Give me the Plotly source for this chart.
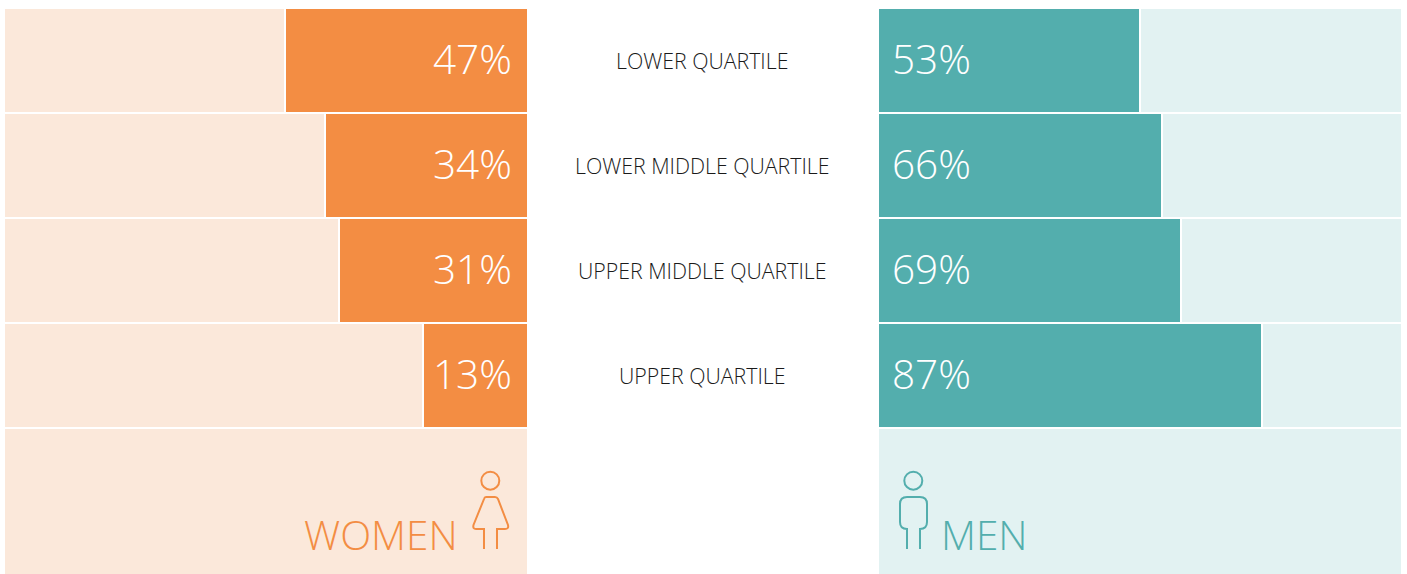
import plotly.graph_objects as go

W, H = 1407, 574

quartiles = ["LOWER QUARTILE", "LOWER MIDDLE QUARTILE", "UPPER MIDDLE QUARTILE", "UPPER QUARTILE"]
women_labels = ["47%", "34%", "31%", "13%"]
men_labels = ["53%", "66%", "69%", "87%"]
# Bar lengths as drawn in the picture (share of each panel); they differ from the printed labels.
women_lengths = [46.4, 38.7, 36.1, 20.0]
men_lengths = [50.0, 54.2, 57.8, 73.3]

ORANGE, ORANGE_LIGHT = "#F38D43", "#FBE8DA"
TEAL, TEAL_LIGHT = "#53AEAD", "#E2F2F2"
FONT = "Open Sans"


def px(x):
    return x / W


def py(y):
    return 1 - y / H


def path(cmds):
    out = []
    for c in cmds:
        if len(c) == 3:
            out.append(f"{c[0]}{px(c[1]):.5f},{py(c[2]):.5f}")
        else:
            out.append(f"{c[0]}{px(c[1]):.5f},{py(c[2]):.5f} {px(c[3]):.5f},{py(c[4]):.5f}")
    return " ".join(out)


fig = go.Figure()
line = dict(color="white", width=2)


def add_panel(lengths, dark, light, xaxis):
    fig.add_bar(y=quartiles, x=lengths, orientation="h", marker=dict(color=dark, line=line),
                xaxis=xaxis, yaxis="y", hoverinfo="skip", showlegend=False)
    fig.add_bar(y=quartiles, x=[100 - v for v in lengths], orientation="h", marker=dict(color=light, line=line),
                xaxis=xaxis, yaxis="y", hoverinfo="skip", showlegend=False)


add_panel(women_lengths, ORANGE, ORANGE_LIGHT, "x")
add_panel(men_lengths, TEAL, TEAL_LIGHT, "x2")

annotations = []
for q, wl, ml in zip(quartiles, women_labels, men_labels):
    annotations.append(dict(x=0, y=q, xref="x", yref="y", text=wl, showarrow=False, xanchor="right", xshift=-14,
                            yshift=2, font=dict(family=FONT, size=40.5, color="white", weight=300)))
    annotations.append(dict(x=0, y=q, xref="x2", yref="y", text=ml, showarrow=False, xanchor="left", xshift=12,
                            yshift=2, font=dict(family=FONT, size=40.5, color="white", weight=300)))
    annotations.append(dict(x=px(702), y=q, xref="paper", yref="y", text=q, showarrow=False, xanchor="center",
                            font=dict(family=FONT, size=21.3, color="#1a1a1a", weight=300)))

annotations.append(dict(x=px(460.5), y=py(534), xref="paper", yref="paper", text="WOMEN", showarrow=False,
                        xanchor="right", yanchor="middle",
                        font=dict(family=FONT, size=40.5, color=ORANGE, weight=300)))
annotations.append(dict(x=px(939), y=py(534), xref="paper", yref="paper", text="MEN", showarrow=False,
                        xanchor="left", yanchor="middle",
                        font=dict(family=FONT, size=40.5, color=TEAL, weight=300)))

woman = [("M", 484, 549), ("L", 484, 529), ("L", 476, 529), ("Q", 472.5, 529, 473.5, 525), ("L", 484, 499),
         ("Q", 484.5, 497, 486, 497), ("L", 495, 497), ("Q", 497, 497, 498, 499), ("L", 508, 525),
         ("Q", 509, 529, 505, 529), ("L", 497, 529), ("L", 497, 549)]
man = [("M", 907, 549), ("L", 907, 529), ("Q", 900, 529, 900, 522), ("L", 900, 504), ("Q", 900, 497, 907, 497),
       ("L", 920, 497), ("Q", 927, 497, 927, 504), ("L", 927, 522), ("Q", 927, 529, 920, 529), ("L", 920, 549)]

shapes = [
    dict(type="rect", xref="paper", yref="paper", x0=px(5), x1=px(527), y0=py(574), y1=py(429),
         fillcolor=ORANGE_LIGHT, line=dict(width=0), layer="below"),
    dict(type="rect", xref="paper", yref="paper", x0=px(879), x1=px(1401), y0=py(574), y1=py(429),
         fillcolor=TEAL_LIGHT, line=dict(width=0), layer="below"),
    dict(type="path", xref="paper", yref="paper", path=path(woman), line=dict(color=ORANGE, width=2)),
    dict(type="path", xref="paper", yref="paper", path=path(man), line=dict(color=TEAL, width=2)),
    dict(type="circle", xref="paper", yref="paper", x0=px(481.3), x1=px(499.3), y0=py(489.7), y1=py(471.7),
         line=dict(color=ORANGE, width=2)),
    dict(type="circle", xref="paper", yref="paper", x0=px(904.3), x1=px(922.3), y0=py(489.7), y1=py(471.7),
         line=dict(color=TEAL, width=2)),
]

hidden = dict(showgrid=False, zeroline=False, showticklabels=False, ticks="", showline=False, fixedrange=True)
fig.update_layout(
    width=W, height=H, margin=dict(l=0, r=0, t=0, b=0), paper_bgcolor="white", plot_bgcolor="white",
    barmode="stack", bargap=0, showlegend=False,
    xaxis=dict(domain=[px(4), px(528)], range=[100, 0], **hidden),
    xaxis2=dict(domain=[px(878), px(1402)], range=[0, 100], **hidden),
    yaxis=dict(domain=[py(428), py(8)], range=[3.5, -0.5], type="category", categoryorder="array",
               categoryarray=quartiles, **hidden),
    annotations=annotations, shapes=shapes,
)
fig.write_html("out.html", post_script="document.body.style.margin='0';document.documentElement.style.overflow='hidden';",
               config={"displayModeBar": False})
